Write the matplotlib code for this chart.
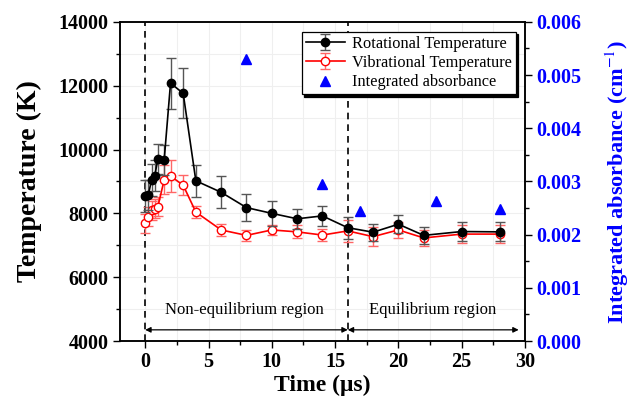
import numpy as np
import matplotlib
matplotlib.use('Agg')
import matplotlib.pyplot as plt
from matplotlib.ticker import MultipleLocator

plt.rcParams['font.family'] = ['Liberation Serif', 'DejaVu Serif']
plt.rcParams['mathtext.fontset'] = 'stix'

# data
time_us = [0, 0.25, 0.5, 0.75, 1, 1.5, 2, 3, 4, 6, 8, 10, 12, 14, 16, 18, 20, 22, 25, 28]
rot_T = [8550, 8580, 9050, 9180, 9690, 9680, 12080, 11760, 9020, 8660, 8180, 8000,
         7830, 7920, 7550, 7410, 7660, 7310, 7430, 7420]
rot_err = [500, 480, 500, 480, 470, 470, 800, 780, 500, 500, 420, 400,
           320, 310, 340, 270, 290, 260, 290, 300]
vib_T = [7690, 7900, 8100, 8150, 8210, 9050, 9170, 8880, 8040, 7480, 7310, 7480,
         7420, 7320, 7450, 7270, 7480, 7230, 7350, 7350]
vib_err = [300, 300, 300, 300, 300, 450, 500, 320, 180, 190, 180, 160,
           200, 200, 340, 300, 250, 250, 280, 280]

abs_time = [8, 14, 17, 23, 28]
abs_val = [0.0053, 0.00295, 0.00245, 0.00264, 0.00248]

fig = plt.figure(figsize=(6.31, 4.05), dpi=100)
ax = fig.add_axes([0.190, 0.158, 0.642, 0.788])

# faint grid
ax.set_axisbelow(True)
ax.grid(True, which='both', color='#efefef', lw=0.8)

# boundaries of regions
for xv in [0, 16]:
    ax.axvline(xv, color='black', ls=(0, (4, 3)), lw=1.2, zorder=1)

ax.errorbar(time_us, rot_T, yerr=rot_err, color='black', marker='o', ms=6,
            mfc='black', mec='black', lw=1.2, ecolor='#555555', elinewidth=1,
            capsize=3.5, capthick=1, zorder=4, label='Rotational Temperature')
ax.errorbar(time_us, vib_T, yerr=vib_err, color='red', marker='o', ms=6,
            mfc='white', mec='red', lw=1.2, ecolor='#ff6666', elinewidth=1,
            capsize=3.5, capthick=1, zorder=3, label='Vibrational Temperature')

ax.set_xlim(-2, 30)
ax.set_ylim(4000, 14000)
ax.set_xticks([0, 5, 10, 15, 20, 25, 30])
ax.xaxis.set_minor_locator(MultipleLocator(2.5))
ax.yaxis.set_major_locator(MultipleLocator(2000))
ax.yaxis.set_minor_locator(MultipleLocator(1000))
ax.tick_params(which='both', direction='out', top=False, right=False, width=1)
ax.tick_params(which='major', length=5, labelsize=14.5, pad=3)
ax.tick_params(which='minor', length=3)
for lab in ax.get_xticklabels() + ax.get_yticklabels():
    lab.set_fontweight('bold')

ax.set_xlabel('Time (\u03bcs)', fontsize=17, fontweight='bold', labelpad=2)
ax.set_ylabel('Temperature (K)', fontsize=20, fontweight='bold', labelpad=12)

# region arrows and text
ax.annotate('', xy=(0, 4350), xytext=(16, 4350),
            arrowprops=dict(arrowstyle='<|-|>', color='black', lw=0.9,
                            mutation_scale=8, shrinkA=0, shrinkB=0))
ax.annotate('', xy=(16, 4350), xytext=(29.5, 4350),
            arrowprops=dict(arrowstyle='<|-|>', color='black', lw=0.9,
                            mutation_scale=8, shrinkA=0, shrinkB=0))
ax.text(7.8, 4980, 'Non-equilibrium region', ha='center', va='center', fontsize=12)
ax.text(22.7, 4980, 'Equilibrium region', ha='center', va='center', fontsize=12)

ax2 = ax.twinx()
ax2.plot(abs_time, abs_val, ls='none', marker='^', ms=7, color='blue',
         label='Integrated absorbance')
ax2.set_ylim(0, 0.006)
ax2.yaxis.set_minor_locator(MultipleLocator(0.0005))
ax2.tick_params(which='both', direction='out', width=1, labelcolor='blue')
ax2.tick_params(which='major', length=5, labelsize=14.5, pad=3)
ax2.tick_params(which='minor', length=3)
ax2.set_yticks(np.arange(0, 0.0061, 0.001))
ax2.set_yticklabels(['%.3f' % v for v in np.arange(0, 0.0061, 0.001)], fontweight='bold')
ax2.set_ylabel('Integrated absorbance (cm$^{-1}$)', fontsize=16, fontweight='bold',
               color='blue', labelpad=16)

for a in (ax, ax2):
    for s in a.spines.values():
        s.set_linewidth(1.1)

h1, l1 = ax.get_legend_handles_labels()
h2, l2 = ax2.get_legend_handles_labels()
leg = ax2.legend(h1 + h2, l1 + l2, loc='upper right', bbox_to_anchor=(0.997, 0.995),
                 fontsize=11.8, frameon=True, fancybox=False, edgecolor='black',
                 shadow={'color': 'black', 'alpha': 1}, borderpad=0.25,
                 labelspacing=0.2, handlelength=2.4, handletextpad=0.4)
leg.get_frame().set_linewidth(0.9)

fig.savefig('out.png', dpi=100)
